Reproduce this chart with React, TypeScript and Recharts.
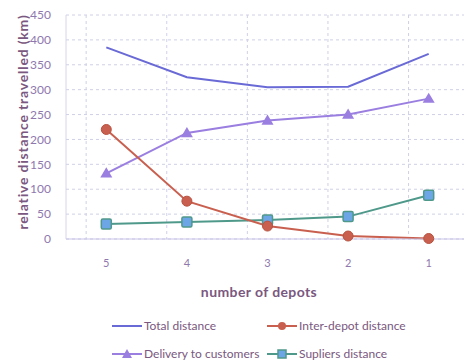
import { LineChart, Line, XAxis, YAxis, CartesianGrid } from 'recharts';

// depots go from 5 down to 1
const depots = ['5', '4', '3', '2', '1'];
const totalDistance = [385, 325, 305, 306, 372];
const interDepotDistance = [220, 76, 26, 6, 1];
const deliveryToCustomers = [132, 213, 238, 250, 282];
const suppliersDistance = [30, 34, 38, 45, 88];
const yTicks = [0, 50, 100, 150, 200, 250, 300, 350, 400, 450];

const FONT = 'Lato, "Liberation Sans", sans-serif';
const TEXT = '#7a5880';
const TICK = '#8f78ae';

const C_TOTAL = '#6a6ad6';
const C_INTER = '#c9604f';
const C_DELIVERY = '#9a7ee0';
const C_SUPP_LINE = '#4f998a';
const C_SUPP_FILL = '#6ca6e6';

const data = depots.map((d, i) => ({
  depots: d,
  total: totalDistance[i],
  inter: interDepotDistance[i],
  delivery: deliveryToCustomers[i],
  suppliers: suppliersDistance[i],
}));

const CircleDot = (props: any) => {
  const { cx, cy } = props;
  return <circle cx={cx} cy={cy} r={5} fill={C_INTER} stroke="#b9513f" strokeWidth={1} />;
};

const TriangleDot = (props: any) => {
  const { cx, cy } = props;
  const s = 6;
  return (
    <polygon
      points={`${cx},${cy - s} ${cx - s},${cy + s * 0.7} ${cx + s},${cy + s * 0.7}`}
      fill={C_DELIVERY}
    />
  );
};

const SquareDot = (props: any) => {
  const { cx, cy } = props;
  return (
    <rect x={cx - 5} y={cy - 5} width={10} height={10} rx={1.5} fill={C_SUPP_FILL} stroke={C_SUPP_LINE} strokeWidth={1.5} />
  );
};

function LegendItem({ label, color, marker }: { label: string; color: string; marker: 'none' | 'circle' | 'triangle' | 'square' }) {
  return (
    <div style={{ display: 'flex', alignItems: 'center' }}>
      <svg width={30} height={12}>
        <line x1={0} y1={6} x2={30} y2={6} stroke={color} strokeWidth={2} />
        {marker === 'circle' && <circle cx={15} cy={6} r={4} fill={C_INTER} />}
        {marker === 'triangle' && <polygon points="15,1 10,10 20,10" fill={C_DELIVERY} />}
        {marker === 'square' && <rect x={11} y={2} width={8} height={8} fill={C_SUPP_FILL} stroke={C_SUPP_LINE} strokeWidth={1.5} />}
      </svg>
      <span style={{ marginLeft: 2 }}>{label}</span>
    </div>
  );
}

export default function App() {
  return (
    <div style={{ position: 'absolute', left: 0, top: 0, width: 464, height: 361, overflow: 'hidden', background: '#fff', fontFamily: FONT }}>
      <LineChart width={475} height={275} data={data} margin={{ top: 15, right: 6, left: 0, bottom: 0 }}>
        <CartesianGrid
          stroke="#cfd0e6"
          strokeDasharray="3 3"
          horizontalValues={yTicks}
          verticalCoordinatesGenerator={({ offset }: any) => {
            const band = offset.width / depots.length;
            return depots.map((_, i) => offset.left + band * (i + 0.25));
          }}
        />
        <XAxis
          dataKey="depots"
          scale="band"
          height={36}
          axisLine={{ stroke: '#c7c3e6' }}
          tickLine={false}
          tickMargin={14}
          tick={{ fill: TICK, fontSize: 11, fontFamily: FONT }}
        />
        <YAxis
          width={66}
          domain={[0, 450]}
          ticks={yTicks}
          axisLine={{ stroke: '#d6d4ea' }}
          tickLine={false}
          tickSize={0}
          tickMargin={15}
          tick={{ fill: TICK, fontSize: 12, fontFamily: FONT }}
        />
        <Line dataKey="total" stroke={C_TOTAL} strokeWidth={2} dot={false} isAnimationActive={false} />
        <Line dataKey="delivery" stroke={C_DELIVERY} strokeWidth={2} dot={<TriangleDot />} isAnimationActive={false} />
        <Line dataKey="suppliers" stroke={C_SUPP_LINE} strokeWidth={2} dot={<SquareDot />} isAnimationActive={false} />
        <Line dataKey="inter" stroke={C_INTER} strokeWidth={2} dot={<CircleDot />} isAnimationActive={false} />
      </LineChart>

      {/* y axis title */}
      <div
        style={{
          position: 'absolute',
          left: 22,
          top: 122,
          transform: 'translate(-50%, -50%) rotate(-90deg)',
          whiteSpace: 'nowrap',
          fontSize: 14,
          fontWeight: 700,
          color: TEXT,
          letterSpacing: 0.8,
        }}
      >
        relative distance travelled (km)
      </div>

      {/* x axis title */}
      <div
        style={{
          position: 'absolute',
          left: 259,
          top: 291,
          transform: 'translate(-50%, -50%)',
          whiteSpace: 'nowrap',
          fontSize: 14,
          fontWeight: 700,
          color: TEXT,
          letterSpacing: 0.4,
        }}
      >
        number of depots
      </div>

      {/* legend */}
      <div style={{ position: 'absolute', left: 112, top: 318, fontSize: 12, color: TEXT, display: 'grid', gridTemplateColumns: '155px auto', rowGap: 13 }}>
        <LegendItem label="Total distance" color={C_TOTAL} marker="none" />
        <LegendItem label="Inter-depot distance" color={C_INTER} marker="circle" />
        <LegendItem label="Delivery to customers" color={C_DELIVERY} marker="triangle" />
        <LegendItem label="Supliers distance" color={C_SUPP_LINE} marker="square" />
      </div>
    </div>
  );
}
